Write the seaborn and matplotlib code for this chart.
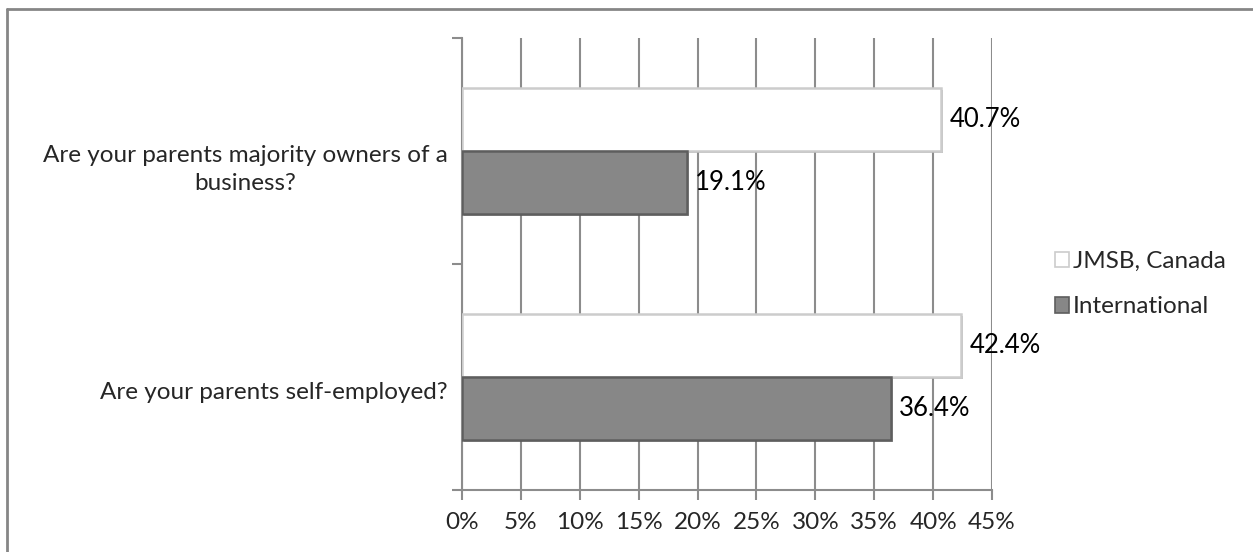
import matplotlib
matplotlib.use("Agg")
import matplotlib.pyplot as plt
from matplotlib.patches import Patch
from matplotlib.lines import Line2D
from matplotlib.ticker import FixedLocator, PercentFormatter
from matplotlib.transforms import ScaledTranslation
import matplotlib.patheffects as pe
import seaborn as sns
import pandas as pd

# Survey questions (top to bottom) and the share answering "yes" per group
questions = ["Are your parents majority owners of a\nbusiness?",
             "Are your parents self-employed?"]
groups = ["JMSB, Canada", "International"]
jmsb_canada = [40.7, 42.4]
international = [19.1, 36.4]
x_ticks = [0, 5, 10, 15, 20, 25, 30, 35, 40, 45]

df = pd.DataFrame({
    "question": questions * 2,
    "group": [groups[0]] * len(questions) + [groups[1]] * len(questions),
    "share": jmsb_canada + international,
})

sns.set_theme(style="white")
plt.rcParams["font.family"] = ["Lato", "DejaVu Sans"]

FS = 17.5
FS_VAL = 18.5
fill_colors = {"JMSB, Canada": "#ffffff", "International": "#878787"}
edge_colors = {"JMSB, Canada": "#cccccc", "International": "#5e5e5e"}
grid_col = "#8c8c8c"

fig = plt.figure(figsize=(12.53, 5.52), dpi=100)
ax = fig.add_axes([0.3687, 0.1123, 0.4230, 0.8189])

sns.barplot(data=df, y="question", x="share", hue="group",
            hue_order=groups, order=questions, orient="h",
            palette=fill_colors, width=0.56, dodge=True,
            legend=False, ax=ax, zorder=3)

shadow = [pe.SimplePatchShadow(offset=(1.5, -1.5), alpha=0.35), pe.Normal()]
for container, grp in zip(ax.containers, groups):
    for bar in container:
        bar.set_edgecolor(edge_colors[grp])
        bar.set_linewidth(1.8)
        bar.set_zorder(3)
        bar.set_path_effects(shadow)
    labels = [f"{v:.1f}%" for v in container.datavalues]
    ax.bar_label(container, labels=labels, padding=6, fontsize=FS_VAL,
                 color="#000000", zorder=4)

ax.set_xlim(0, 45)
ax.set_ylim(1.5, -0.5)
ax.xaxis.set_major_locator(FixedLocator(x_ticks))
ax.xaxis.set_major_formatter(PercentFormatter(decimals=0))
ax.set_xlabel("")
ax.set_ylabel("")

# Category labels at centres, tick marks at category boundaries
ax.set_yticks(range(len(questions)))
ax.set_yticklabels(questions, fontsize=FS)
ax.tick_params(axis="y", which="major", length=0, pad=10)
ax.set_yticks([-0.5, 0.5, 1.5], minor=True)
ax.tick_params(axis="y", which="minor", length=7, width=1.5, color=grid_col,
               direction="out", left=True)
ax.tick_params(axis="x", which="major", length=7, width=1.5, color=grid_col,
               direction="out", bottom=True, labelsize=FS, pad=9)
shift_down = ScaledTranslation(0, -13 / 100, fig.dpi_scale_trans)
for lbl in ax.get_yticklabels():
    lbl.set_multialignment("center")
    lbl.set_linespacing(1.4)
    lbl.set_transform(lbl.get_transform() + shift_down)

ax.grid(axis="x", color=grid_col, linewidth=1.5, zorder=0)
ax.set_axisbelow(True)
for side in ["top", "right"]:
    ax.spines[side].set_visible(False)
for side in ["left", "bottom"]:
    ax.spines[side].set_color(grid_col)
    ax.spines[side].set_linewidth(1.5)

handles = [Patch(facecolor=fill_colors[g], edgecolor=edge_colors[g],
                 linewidth=1.2, label=g) for g in groups]
ax.legend(handles=handles, loc="center left", bbox_to_anchor=(1.1, 0.455),
          frameon=False, fontsize=FS, handlelength=0.6, handleheight=0.6,
          handletextpad=0.15, labelspacing=1.0, borderaxespad=0)

# Chart-area border (top and left edges)
fig.add_artist(Line2D([6.5 / 1253, 1], [1 - 8.5 / 552, 1 - 8.5 / 552],
                      transform=fig.transFigure, color="#868686", lw=2))
fig.add_artist(Line2D([6.5 / 1253, 6.5 / 1253], [0, 1 - 8.5 / 552],
                      transform=fig.transFigure, color="#868686", lw=2))

fig.savefig("out.png", dpi=100)
